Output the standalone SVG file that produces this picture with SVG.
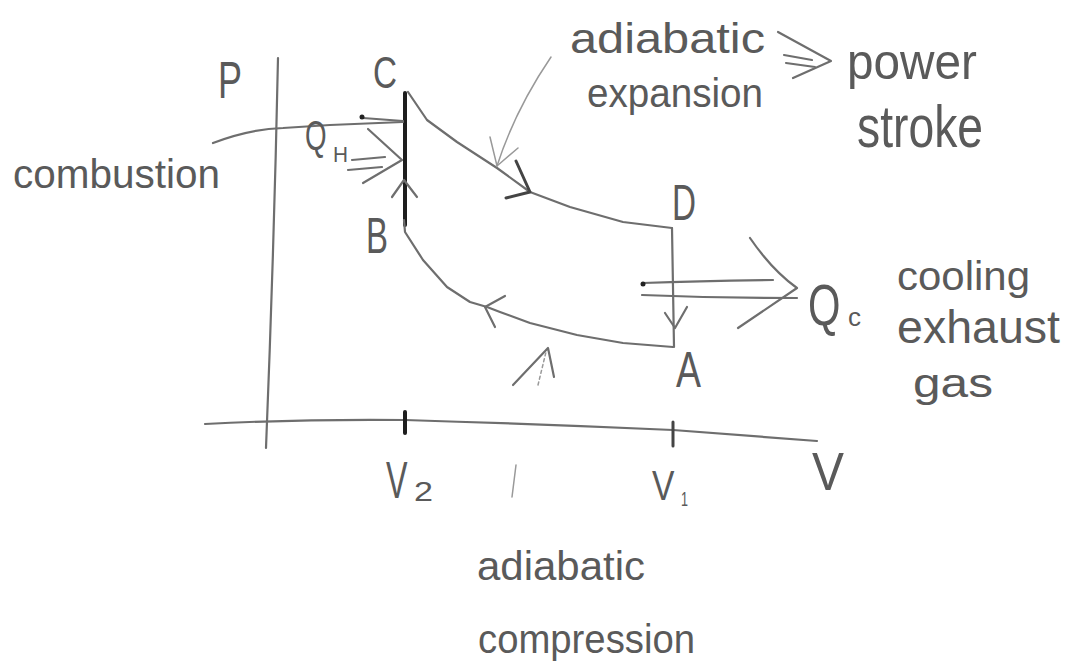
<svg xmlns="http://www.w3.org/2000/svg" width="1070" height="667" viewBox="0 0 1070 667">
<style>
.ln{fill:none;stroke:#6e6e6e;stroke-width:2.2;stroke-linecap:round;stroke-linejoin:round}
.dk{fill:none;stroke:#1e1e1e;stroke-width:4;stroke-linecap:round;stroke-linejoin:round}
.md{fill:none;stroke:#444;stroke-width:3;stroke-linecap:round;stroke-linejoin:round}
.lt{fill:none;stroke:#999;stroke-width:1.5;stroke-linecap:round}
text{font-family:"Liberation Sans","DejaVu Sans",sans-serif;fill:#5a5a5a}
</style>
<rect width="1070" height="667" fill="#fff"/>
<g id="axes">
  <path class="ln" d="M278,58 Q274,250 266,448"/>
  <path class="ln" d="M205,424 Q300,419 405,420 Q540,424 673,430 Q750,436 817,441"/>
  <path class="dk" d="M405,412 L405,433"/>
  <path class="md" d="M673,422 L673,446"/>
  <text x="218" y="98" font-size="52" textLength="24" lengthAdjust="spacingAndGlyphs">P</text>
  <text transform="translate(386,498) scale(0.62,1)" font-size="52">V</text>
  <text x="414" y="501" font-size="28" textLength="19" lengthAdjust="spacingAndGlyphs">2</text>
  <text transform="translate(652,500) scale(0.8,1)" font-size="42">V</text>
  <text x="681" y="506" font-size="20" textLength="7" lengthAdjust="spacingAndGlyphs">1</text>
  <text x="812" y="490" font-size="54" textLength="32" lengthAdjust="spacingAndGlyphs">V</text>
</g>
<g id="connectors">
  <path class="ln" d="M408,92 L427,120 L457,142 L497,168 L530,192 L570,207 L623,222 L672,228"/>
  <path class="dk" d="M405,93 L405,225"/>
  <path class="ln" d="M404,220 L405,232 L423,260 L447,287 L470,302 L487,307 L500,312 L530,323 L577,335 L623,343 L673,347"/>
  <path class="ln" d="M672,228 L674,347"/>
  <path class="md" d="M516,161 L530,192 L506,198"/>
  <path class="ln" d="M505,296 L485,307 L495,327"/>
  <path class="ln" d="M665,313 L675,328 L687,307"/>
  <path class="ln" d="M392,197 L404,180 L417,197"/>
  <path class="lt" d="M551,57 Q515,110 497,166"/>
  <path class="lt" d="M490,137 L497,166 L518,148"/>
  <path class="ln" d="M513,385 L548,348 L554,377"/>
  <path class="lt" d="M538,385 L546,352" stroke-dasharray="3 3"/>
  <path class="lt" d="M516,465 L512,497"/>
  <path class="ln" d="M213,143 Q250,129 283,128 L330,125 L403,122"/>
  <path class="ln" d="M363,118 L403,121"/>
  <circle cx="362" cy="117" r="2.5" fill="#222"/>
  <path class="ln" d="M352,160 L385,157 M348,170 L382,167"/>
  <path class="ln" d="M368,129 L402,160 L363,183"/>
  <path class="ln" d="M643,283 Q700,281 773,280 M642,295 Q720,298 797,298"/>
  <path class="ln" d="M750,238 Q772,270 797,288 L738,328"/>
  <circle cx="643" cy="284" r="2.5" fill="#222"/>
  <path class="ln" d="M778,32 L831,61 L793,78 M784,55 L812,60 M786,63 L815,67"/>
</g>
<g id="point-C"><text x="373" y="88" font-size="44" textLength="24" lengthAdjust="spacingAndGlyphs">C</text></g>
<g id="point-B"><text x="366" y="253" font-size="50" textLength="22" lengthAdjust="spacingAndGlyphs">B</text></g>
<g id="point-D"><text x="672" y="220" font-size="50" textLength="24" lengthAdjust="spacingAndGlyphs">D</text></g>
<g id="point-A"><text x="676" y="387" font-size="50" textLength="25" lengthAdjust="spacingAndGlyphs">A</text></g>
<g id="label-QH">
  <text transform="translate(305,150) scale(0.66,1)" font-size="42">Q</text>
  <text x="333" y="162" font-size="22" textLength="15" lengthAdjust="spacingAndGlyphs">H</text>
</g>
<g id="label-QC">
  <text transform="translate(808,325) scale(0.72,1)" font-size="58">Q</text>
  <text x="848" y="326" font-size="26" textLength="13" lengthAdjust="spacingAndGlyphs">c</text>
</g>
<g id="label-combustion"><text x="13" y="188" font-size="40" textLength="207" lengthAdjust="spacingAndGlyphs">combustion</text></g>
<g id="label-expansion">
  <text x="570" y="53" font-size="42" textLength="195" lengthAdjust="spacingAndGlyphs">adiabatic</text>
  <text x="587" y="107" font-size="40" textLength="176" lengthAdjust="spacingAndGlyphs">expansion</text>
</g>
<g id="label-power">
  <text x="847" y="79" font-size="50" textLength="130" lengthAdjust="spacingAndGlyphs">power</text>
  <text x="857" y="147" font-size="60" textLength="126" lengthAdjust="spacingAndGlyphs">stroke</text>
</g>
<g id="label-cooling">
  <text x="897" y="290" font-size="40" textLength="133" lengthAdjust="spacingAndGlyphs">cooling</text>
  <text x="897" y="343" font-size="46" textLength="163" lengthAdjust="spacingAndGlyphs">exhaust</text>
  <text x="913" y="397" font-size="40" textLength="80" lengthAdjust="spacingAndGlyphs">gas</text>
</g>
<g id="label-compression">
  <text x="477" y="580" font-size="40" textLength="168" lengthAdjust="spacingAndGlyphs">adiabatic</text>
  <text x="478" y="653" font-size="40" textLength="217" lengthAdjust="spacingAndGlyphs">compression</text>
</g>
</svg>
